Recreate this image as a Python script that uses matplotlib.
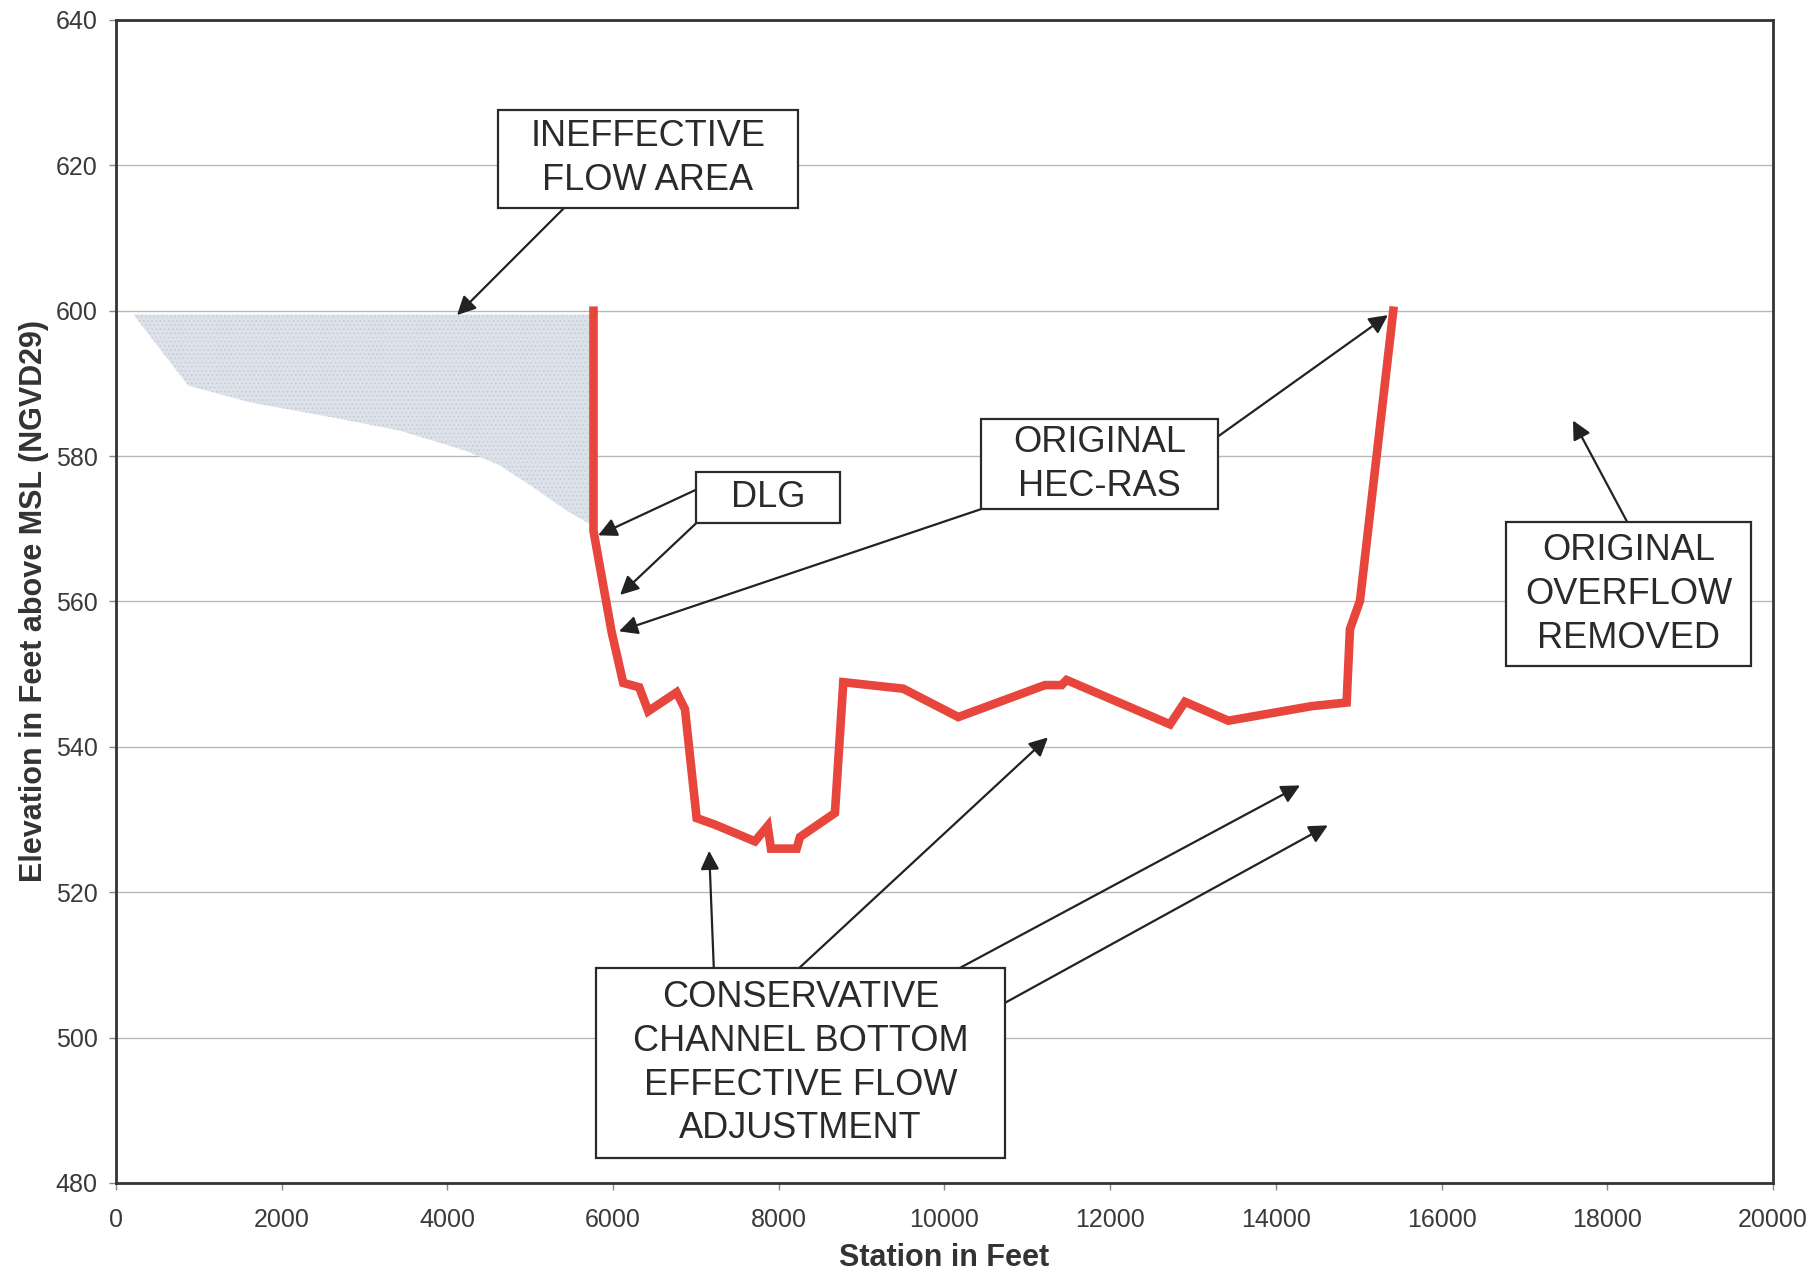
import matplotlib
matplotlib.use("Agg")
import matplotlib.pyplot as plt
from matplotlib.patches import Rectangle

plt.rcParams['font.family'] = ['Liberation Sans', 'DejaVu Sans']
plt.rcParams['hatch.color'] = '#c3cad6'
plt.rcParams['hatch.linewidth'] = 0.6

# ---- data ----
station = [5764, 5764, 5983, 6123, 6316, 6425, 6767, 6868, 7009, 7230, 7713, 7866,
           7906, 8216, 8256, 8678, 8779, 9503, 10167, 11213, 11414, 11474, 12722,
           12903, 13426, 14432, 14854, 14894, 15015, 15417]
elevation = [600, 569.7, 555.8, 548.8, 548.2, 544.9, 547.5, 545.2, 530.2, 529.3, 527.0,
             529.1, 526.0, 526.0, 527.6, 530.9, 548.9, 548.0, 544.1, 548.5, 548.5, 549.2,
             543.1, 546.2, 543.6, 545.6, 546.1, 556.2, 560.1, 600]

ineff_x = [209, 873, 1617, 2623, 3428, 4233, 4635, 5037, 5440, 5742, 5764]
ineff_low = [599.5, 589.7, 587.4, 585.3, 583.5, 580.7, 578.7, 575.7, 572.5, 570.5, 569.7]
ineff_top = 599.5

x_ticks = [0, 2000, 4000, 6000, 8000, 10000, 12000, 14000, 16000, 18000, 20000]
y_ticks = [480, 500, 520, 540, 560, 580, 600, 620, 640]

# annotation boxes: text, (x0, x1, y0, y1) and arrows (start, end)
boxes = [
    ("INEFFECTIVE\nFLOW AREA", (4606, 8235, 614.2, 627.6),
     [((5415, 614.2), (4117, 599.4))]),
    ("DLG", (7006, 8737, 570.8, 577.8),
     [((7006, 575.4), (5820, 569.1)), ((7006, 570.8), (6085, 560.9))]),
    ("ORIGINAL\nHEC-RAS", (10440, 13301, 572.7, 585.1),
     [((13301, 582.7), (15352, 599.4)), ((10440, 572.7), (6071, 555.9))]),
    ("ORIGINAL\nOVERFLOW\nREMOVED", (16776, 19735, 551.1, 570.9),
     [((18242, 570.9), (17586, 584.9))]),
    ("CONSERVATIVE\nCHANNEL BOTTOM\nEFFECTIVE FLOW\nADJUSTMENT", (5792, 10733, 483.4, 509.6),
     [((7216, 509.6), (7160, 525.7)), ((8249, 509.6), (11249, 541.3)),
      ((10188, 509.6), (14292, 534.7)), ((10733, 504.8), (14627, 529.2))]),
]

fig = plt.figure(figsize=(18.14, 12.73), dpi=100)
ax = fig.add_axes([0.0639, 0.0707, 0.9135, 0.9136])

ax.set_xlim(0, 20000)
ax.set_ylim(480, 640)
ax.set_xticks(x_ticks)
ax.set_yticks(y_ticks)
ax.yaxis.grid(True, color='#b8b8b8', lw=1.0)
ax.set_axisbelow(True)

ax.fill_between(ineff_x, ineff_low, ineff_top, facecolor='#dde2ea', edgecolor='none',
                hatch='....', lw=0, zorder=1)
ax.plot(station, elevation, color='#e8453c', lw=6.2, solid_joinstyle='miter', zorder=3)

for txt, (x0, x1, y0, y1), arrows in boxes:
    for (sx, sy), (ex, ey) in arrows:
        ax.annotate("", xy=(ex, ey), xytext=(sx, sy),
                    arrowprops=dict(arrowstyle='-|>', color='#222222', lw=1.6,
                                    mutation_scale=28, shrinkA=0, shrinkB=0),
                    zorder=4)
    ax.add_patch(Rectangle((x0, y0), x1 - x0, y1 - y0, facecolor='white',
                           edgecolor='#2a2a2a', lw=1.6, zorder=5))
    ax.text((x0 + x1) / 2, (y0 + y1) / 2, txt, ha='center', va='center',
            fontsize=26, color='#2a2a2a', linespacing=1.33, zorder=6)

for s in ax.spines.values():
    s.set_color('#333333')
    s.set_linewidth(2)

ax.tick_params(axis='both', direction='out', length=5, width=1, color='#888888',
               labelsize=18, labelcolor='#3a3a3a')
ax.tick_params(axis='x', pad=13)
ax.tick_params(axis='y', pad=8)

ax.set_xlabel("Station in Feet", fontsize=22, fontweight='bold', color='#333333', labelpad=8)
ax.set_ylabel("Elevation in Feet above MSL (NGVD29)", fontsize=22, fontweight='bold',
              color='#333333', labelpad=5)

fig.savefig("out.png", dpi=100)
